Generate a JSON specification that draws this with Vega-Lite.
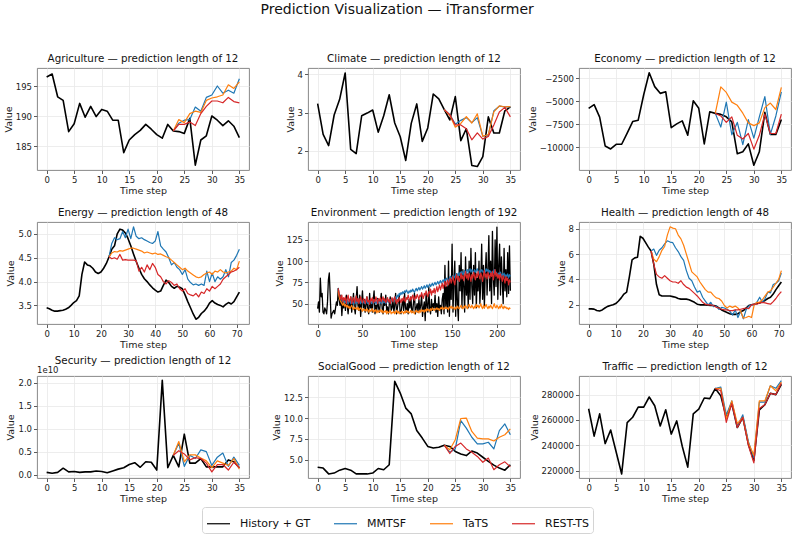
{
  "$schema": "https://vega.github.io/schema/vega-lite/v6.json",
  "autosize": {"type": "none"},
  "padding": {"left": 37, "top": 68, "right": 762, "bottom": 467},
  "title": {"text": "Prediction Visualization — iTransformer", "fontSize": 14, "anchor": "middle", "offset": 36, "frame": "bounds"},
  "columns": 3,
  "spacing": {"row": 52, "column": 59},
  "bounds": "flush",
  "datasets": {
    "agr_gt": [{"t":0,"v":196.5},{"t":1,"v":197.0},{"t":2,"v":193.2},{"t":3,"v":192.6},{"t":4,"v":187.4},{"t":5,"v":188.7},{"t":6,"v":192.1},{"t":7,"v":189.8},{"t":8,"v":191.6},{"t":9,"v":189.9},{"t":10,"v":191.1},{"t":11,"v":190.8},{"t":12,"v":189.3},{"t":13,"v":189.3},{"t":14,"v":183.9},{"t":15,"v":186.0},{"t":16,"v":186.9},{"t":17,"v":187.6},{"t":18,"v":188.6},{"t":19,"v":187.8},{"t":20,"v":186.9},{"t":21,"v":186.3},{"t":22,"v":188.6},{"t":23,"v":187.5},{"t":24,"v":187.4},{"t":25,"v":187.1},{"t":26,"v":189.6},{"t":27,"v":181.8},{"t":28,"v":186.0},{"t":29,"v":186.7},{"t":30,"v":190.0},{"t":31,"v":189.3},{"t":32,"v":188.4},{"t":33,"v":189.2},{"t":34,"v":188.3},{"t":35,"v":186.4}],
    "agr_mm": [{"t":23,"v":187.5},{"t":24,"v":188.8},{"t":25,"v":189.3},{"t":26,"v":189.4},{"t":27,"v":191.5},{"t":28,"v":190.8},{"t":29,"v":193.1},{"t":30,"v":193.5},{"t":31,"v":195.0},{"t":32,"v":193.8},{"t":33,"v":194.3},{"t":34,"v":193.8},{"t":35,"v":196.2}],
    "agr_ta": [{"t":23,"v":187.5},{"t":24,"v":189.4},{"t":25,"v":188.9},{"t":26,"v":190.4},{"t":27,"v":190.8},{"t":28,"v":190.6},{"t":29,"v":192.6},{"t":30,"v":193.0},{"t":31,"v":193.2},{"t":32,"v":193.5},{"t":33,"v":195.2},{"t":34,"v":194.6},{"t":35,"v":195.7}],
    "agr_re": [{"t":23,"v":187.5},{"t":24,"v":188.6},{"t":25,"v":188.6},{"t":26,"v":189.0},{"t":27,"v":188.4},{"t":28,"v":190.4},{"t":29,"v":191.6},{"t":30,"v":192.5},{"t":31,"v":192.5},{"t":32,"v":192.2},{"t":33,"v":193.1},{"t":34,"v":192.4},{"t":35,"v":192.2}],
    "cli_gt": [{"t":0,"v":3.24},{"t":1,"v":2.43},{"t":2,"v":2.14},{"t":3,"v":2.94},{"t":4,"v":3.35},{"t":5,"v":4.04},{"t":6,"v":2.04},{"t":7,"v":1.93},{"t":8,"v":2.92},{"t":9,"v":2.99},{"t":10,"v":3.07},{"t":11,"v":2.49},{"t":12,"v":2.92},{"t":13,"v":3.47},{"t":14,"v":2.73},{"t":15,"v":2.37},{"t":16,"v":1.75},{"t":17,"v":2.72},{"t":18,"v":3.23},{"t":19,"v":2.25},{"t":20,"v":2.60},{"t":21,"v":3.49},{"t":22,"v":3.36},{"t":23,"v":3.08},{"t":24,"v":2.81},{"t":25,"v":3.42},{"t":26,"v":2.27},{"t":27,"v":2.58},{"t":28,"v":1.62},{"t":29,"v":1.59},{"t":30,"v":1.85},{"t":31,"v":2.89},{"t":32,"v":2.47},{"t":33,"v":2.47},{"t":34,"v":3.05},{"t":35,"v":3.15}],
    "cli_mm": [{"t":23,"v":3.08},{"t":24,"v":2.95},{"t":25,"v":2.70},{"t":26,"v":2.80},{"t":27,"v":2.87},{"t":28,"v":2.74},{"t":29,"v":2.87},{"t":30,"v":2.38},{"t":31,"v":2.42},{"t":32,"v":3.05},{"t":33,"v":3.17},{"t":34,"v":3.15},{"t":35,"v":3.15}],
    "cli_ta": [{"t":23,"v":3.08},{"t":24,"v":2.93},{"t":25,"v":2.62},{"t":26,"v":2.72},{"t":27,"v":2.90},{"t":28,"v":2.73},{"t":29,"v":2.97},{"t":30,"v":2.38},{"t":31,"v":2.43},{"t":32,"v":3.02},{"t":33,"v":3.18},{"t":34,"v":3.15},{"t":35,"v":3.16}],
    "cli_re": [{"t":23,"v":3.08},{"t":24,"v":2.95},{"t":25,"v":2.68},{"t":26,"v":2.68},{"t":27,"v":2.58},{"t":28,"v":2.29},{"t":29,"v":2.47},{"t":30,"v":2.31},{"t":31,"v":2.38},{"t":32,"v":2.68},{"t":33,"v":3.02},{"t":34,"v":3.14},{"t":35,"v":2.89}],
    "eco_gt": [{"t":0,"v":-5770},{"t":1,"v":-5370},{"t":2,"v":-6730},{"t":3,"v":-9850},{"t":4,"v":-10180},{"t":5,"v":-9670},{"t":6,"v":-9670},{"t":7,"v":-8460},{"t":8,"v":-7210},{"t":9,"v":-7060},{"t":10,"v":-4300},{"t":11,"v":-1910},{"t":12,"v":-3420},{"t":13,"v":-4150},{"t":14,"v":-3970},{"t":15,"v":-7870},{"t":16,"v":-7460},{"t":17,"v":-7130},{"t":18,"v":-8680},{"t":19,"v":-4960},{"t":20,"v":-5770},{"t":21,"v":-9630},{"t":22,"v":-6140},{"t":23,"v":-6320},{"t":24,"v":-6430},{"t":25,"v":-6690},{"t":26,"v":-7240},{"t":27,"v":-10700},{"t":28,"v":-10480},{"t":29,"v":-9630},{"t":30,"v":-11950},{"t":31,"v":-10480},{"t":32,"v":-6210},{"t":33,"v":-8600},{"t":34,"v":-8600},{"t":35,"v":-6990}],
    "eco_mm": [{"t":23,"v":-6320},{"t":24,"v":-7800},{"t":25,"v":-5100},{"t":26,"v":-8640},{"t":27,"v":-7300},{"t":28,"v":-9700},{"t":29,"v":-7000},{"t":30,"v":-9000},{"t":31,"v":-6700},{"t":32,"v":-4500},{"t":33,"v":-8600},{"t":34,"v":-6600},{"t":35,"v":-4000}],
    "eco_ta": [{"t":23,"v":-6320},{"t":24,"v":-3450},{"t":25,"v":-4050},{"t":26,"v":-5100},{"t":27,"v":-5450},{"t":28,"v":-6300},{"t":29,"v":-7350},{"t":30,"v":-7650},{"t":31,"v":-7350},{"t":32,"v":-5700},{"t":33,"v":-5200},{"t":34,"v":-5900},{"t":35,"v":-3500}],
    "eco_re": [{"t":23,"v":-6320},{"t":24,"v":-6600},{"t":25,"v":-7300},{"t":26,"v":-6700},{"t":27,"v":-8700},{"t":28,"v":-9100},{"t":29,"v":-8500},{"t":30,"v":-10200},{"t":31,"v":-8700},{"t":32,"v":-6400},{"t":33,"v":-8500},{"t":34,"v":-8500},{"t":35,"v":-6400}],
    "ene_gt": [{"t":0,"v":3.45},{"t":1,"v":3.43},{"t":2,"v":3.40},{"t":3,"v":3.38},{"t":4,"v":3.38},{"t":5,"v":3.39},{"t":6,"v":3.40},{"t":7,"v":3.42},{"t":8,"v":3.45},{"t":9,"v":3.50},{"t":10,"v":3.56},{"t":11,"v":3.60},{"t":12,"v":3.70},{"t":13,"v":4.15},{"t":14,"v":4.41},{"t":15,"v":4.35},{"t":16,"v":4.33},{"t":17,"v":4.28},{"t":18,"v":4.20},{"t":19,"v":4.17},{"t":20,"v":4.20},{"t":21,"v":4.28},{"t":22,"v":4.38},{"t":23,"v":4.52},{"t":24,"v":4.68},{"t":25,"v":4.75},{"t":26,"v":5.00},{"t":27,"v":5.10},{"t":28,"v":5.08},{"t":29,"v":5.02},{"t":30,"v":4.90},{"t":31,"v":4.75},{"t":32,"v":4.58},{"t":33,"v":4.42},{"t":34,"v":4.28},{"t":35,"v":4.15},{"t":36,"v":4.06},{"t":37,"v":4.00},{"t":38,"v":3.93},{"t":39,"v":3.87},{"t":40,"v":3.82},{"t":41,"v":3.78},{"t":42,"v":3.80},{"t":43,"v":3.92},{"t":44,"v":4.03},{"t":45,"v":3.98},{"t":46,"v":3.90},{"t":47,"v":3.86},{"t":48,"v":3.90},{"t":49,"v":3.88},{"t":50,"v":3.85},{"t":51,"v":3.72},{"t":52,"v":3.58},{"t":53,"v":3.45},{"t":54,"v":3.32},{"t":55,"v":3.21},{"t":56,"v":3.25},{"t":57,"v":3.33},{"t":58,"v":3.38},{"t":59,"v":3.45},{"t":60,"v":3.55},{"t":61,"v":3.60},{"t":62,"v":3.55},{"t":63,"v":3.52},{"t":64,"v":3.50},{"t":65,"v":3.47},{"t":66,"v":3.52},{"t":67,"v":3.56},{"t":68,"v":3.53},{"t":69,"v":3.58},{"t":70,"v":3.68},{"t":71,"v":3.78}],
    "ene_mm": [{"t":23,"v":4.52},{"t":24,"v":4.80},{"t":25,"v":4.92},{"t":26,"v":4.88},{"t":27,"v":4.90},{"t":28,"v":5.05},{"t":29,"v":4.92},{"t":30,"v":5.10},{"t":31,"v":4.90},{"t":32,"v":5.15},{"t":33,"v":4.95},{"t":34,"v":4.90},{"t":35,"v":4.92},{"t":36,"v":4.88},{"t":37,"v":4.85},{"t":38,"v":4.82},{"t":39,"v":4.80},{"t":40,"v":4.85},{"t":41,"v":5.05},{"t":42,"v":4.75},{"t":43,"v":4.68},{"t":44,"v":4.62},{"t":45,"v":4.50},{"t":46,"v":4.35},{"t":47,"v":4.40},{"t":48,"v":4.30},{"t":49,"v":4.25},{"t":50,"v":4.15},{"t":51,"v":4.25},{"t":52,"v":4.05},{"t":53,"v":3.98},{"t":54,"v":3.93},{"t":55,"v":3.95},{"t":56,"v":3.92},{"t":57,"v":3.95},{"t":58,"v":3.92},{"t":59,"v":4.22},{"t":60,"v":4.00},{"t":61,"v":4.18},{"t":62,"v":4.00},{"t":63,"v":4.10},{"t":64,"v":4.05},{"t":65,"v":4.10},{"t":66,"v":4.25},{"t":67,"v":4.10},{"t":68,"v":4.40},{"t":69,"v":4.45},{"t":70,"v":4.55},{"t":71,"v":4.68}],
    "ene_ta": [{"t":23,"v":4.52},{"t":24,"v":4.60},{"t":25,"v":4.63},{"t":26,"v":4.62},{"t":27,"v":4.65},{"t":28,"v":4.64},{"t":29,"v":4.66},{"t":30,"v":4.68},{"t":31,"v":4.70},{"t":32,"v":4.70},{"t":33,"v":4.68},{"t":34,"v":4.66},{"t":35,"v":4.64},{"t":36,"v":4.60},{"t":37,"v":4.62},{"t":38,"v":4.60},{"t":39,"v":4.58},{"t":40,"v":4.60},{"t":41,"v":4.57},{"t":42,"v":4.58},{"t":43,"v":4.55},{"t":44,"v":4.52},{"t":45,"v":4.50},{"t":46,"v":4.45},{"t":47,"v":4.40},{"t":48,"v":4.35},{"t":49,"v":4.30},{"t":50,"v":4.25},{"t":51,"v":4.28},{"t":52,"v":4.22},{"t":53,"v":4.18},{"t":54,"v":4.14},{"t":55,"v":4.10},{"t":56,"v":4.08},{"t":57,"v":4.10},{"t":58,"v":4.15},{"t":59,"v":4.18},{"t":60,"v":4.20},{"t":61,"v":4.15},{"t":62,"v":4.22},{"t":63,"v":4.20},{"t":64,"v":4.25},{"t":65,"v":4.20},{"t":66,"v":4.18},{"t":67,"v":4.20},{"t":68,"v":4.22},{"t":69,"v":4.28},{"t":70,"v":4.25},{"t":71,"v":4.43}],
    "ene_re": [{"t":23,"v":4.52},{"t":24,"v":4.48},{"t":25,"v":4.50},{"t":26,"v":4.47},{"t":27,"v":4.57},{"t":28,"v":4.45},{"t":29,"v":4.46},{"t":30,"v":4.45},{"t":31,"v":4.45},{"t":32,"v":4.45},{"t":33,"v":4.44},{"t":34,"v":4.22},{"t":35,"v":4.30},{"t":36,"v":4.20},{"t":37,"v":4.35},{"t":38,"v":4.25},{"t":39,"v":4.38},{"t":40,"v":4.30},{"t":41,"v":4.15},{"t":42,"v":4.10},{"t":43,"v":4.00},{"t":44,"v":3.95},{"t":45,"v":4.02},{"t":46,"v":3.98},{"t":47,"v":3.92},{"t":48,"v":3.95},{"t":49,"v":3.85},{"t":50,"v":3.80},{"t":51,"v":3.85},{"t":52,"v":3.75},{"t":53,"v":3.72},{"t":54,"v":3.70},{"t":55,"v":3.75},{"t":56,"v":3.68},{"t":57,"v":3.78},{"t":58,"v":3.75},{"t":59,"v":3.85},{"t":60,"v":3.80},{"t":61,"v":3.90},{"t":62,"v":3.85},{"t":63,"v":3.90},{"t":64,"v":3.95},{"t":65,"v":4.05},{"t":66,"v":4.10},{"t":67,"v":4.15},{"t":68,"v":4.20},{"t":69,"v":4.22},{"t":70,"v":4.25},{"t":71,"v":4.30}],
    "env_gt": [{"t":0,"v":44},{"t":1,"v":52},{"t":2,"v":40},{"t":3,"v":80},{"t":4,"v":58},{"t":5,"v":62},{"t":6,"v":40},{"t":7,"v":38},{"t":8,"v":45},{"t":9,"v":42},{"t":10,"v":38},{"t":11,"v":52},{"t":12,"v":78},{"t":13,"v":86},{"t":14,"v":60},{"t":15,"v":33},{"t":16,"v":38},{"t":17,"v":40},{"t":18,"v":42},{"t":19,"v":38},{"t":20,"v":45},{"t":21,"v":52},{"t":22,"v":48},{"t":23,"v":68},{"t":24,"v":55},{"t":25,"v":48},{"t":26,"v":60},{"t":27,"v":36},{"t":28,"v":52},{"t":29,"v":45},{"t":30,"v":55},{"t":31,"v":42},{"t":32,"v":60},{"t":33,"v":48},{"t":34,"v":38},{"t":35,"v":52},{"t":36,"v":45},{"t":37,"v":58},{"t":38,"v":40},{"t":39,"v":50},{"t":40,"v":62},{"t":41,"v":45},{"t":42,"v":38},{"t":43,"v":55},{"t":44,"v":70},{"t":45,"v":48},{"t":46,"v":42},{"t":47,"v":60},{"t":48,"v":35},{"t":49,"v":50},{"t":50,"v":65},{"t":51,"v":45},{"t":52,"v":55},{"t":53,"v":40},{"t":54,"v":48},{"t":55,"v":58},{"t":56,"v":42},{"t":57,"v":38},{"t":58,"v":62},{"t":59,"v":45},{"t":60,"v":50},{"t":61,"v":40},{"t":62,"v":55},{"t":63,"v":65},{"t":64,"v":38},{"t":65,"v":48},{"t":66,"v":42},{"t":67,"v":56},{"t":68,"v":45},{"t":69,"v":40},{"t":70,"v":52},{"t":71,"v":62},{"t":72,"v":44},{"t":73,"v":38},{"t":74,"v":55},{"t":75,"v":48},{"t":76,"v":60},{"t":77,"v":42},{"t":78,"v":46},{"t":79,"v":38},{"t":80,"v":50},{"t":81,"v":58},{"t":82,"v":42},{"t":83,"v":45},{"t":84,"v":55},{"t":85,"v":40},{"t":86,"v":48},{"t":87,"v":62},{"t":88,"v":38},{"t":89,"v":45},{"t":90,"v":52},{"t":91,"v":60},{"t":92,"v":40},{"t":93,"v":38},{"t":94,"v":48},{"t":95,"v":55},{"t":96,"v":42},{"t":97,"v":62},{"t":98,"v":45},{"t":99,"v":40},{"t":100,"v":50},{"t":101,"v":38},{"t":102,"v":55},{"t":103,"v":45},{"t":104,"v":58},{"t":105,"v":42},{"t":106,"v":40},{"t":107,"v":52},{"t":108,"v":62},{"t":109,"v":38},{"t":110,"v":45},{"t":111,"v":50},{"t":112,"v":40},{"t":113,"v":55},{"t":114,"v":42},{"t":115,"v":48},{"t":116,"v":60},{"t":117,"v":35},{"t":118,"v":45},{"t":119,"v":52},{"t":120,"v":30},{"t":121,"v":62},{"t":122,"v":48},{"t":123,"v":40},{"t":124,"v":70},{"t":125,"v":45},{"t":126,"v":38},{"t":127,"v":55},{"t":128,"v":42},{"t":129,"v":50},{"t":130,"v":45},{"t":131,"v":60},{"t":132,"v":40},{"t":133,"v":50},{"t":134,"v":35},{"t":135,"v":58},{"t":136,"v":42},{"t":137,"v":48},{"t":138,"v":38},{"t":139,"v":55},{"t":140,"v":62},{"t":141,"v":38},{"t":142,"v":95},{"t":143,"v":45},{"t":144,"v":70},{"t":145,"v":40},{"t":146,"v":100},{"t":147,"v":35},{"t":148,"v":80},{"t":149,"v":55},{"t":150,"v":120},{"t":151,"v":40},{"t":152,"v":75},{"t":153,"v":100},{"t":154,"v":35},{"t":155,"v":85},{"t":156,"v":50},{"t":157,"v":30},{"t":158,"v":95},{"t":159,"v":65},{"t":160,"v":110},{"t":161,"v":45},{"t":162,"v":90},{"t":163,"v":70},{"t":164,"v":40},{"t":165,"v":105},{"t":166,"v":60},{"t":167,"v":85},{"t":168,"v":45},{"t":169,"v":100},{"t":170,"v":55},{"t":171,"v":115},{"t":172,"v":70},{"t":173,"v":50},{"t":174,"v":95},{"t":175,"v":60},{"t":176,"v":110},{"t":177,"v":45},{"t":178,"v":80},{"t":179,"v":65},{"t":180,"v":100},{"t":181,"v":50},{"t":182,"v":75},{"t":183,"v":120},{"t":184,"v":55},{"t":185,"v":95},{"t":186,"v":45},{"t":187,"v":85},{"t":188,"v":110},{"t":189,"v":60},{"t":190,"v":90},{"t":191,"v":130},{"t":192,"v":65},{"t":193,"v":100},{"t":194,"v":50},{"t":195,"v":135},{"t":196,"v":80},{"t":197,"v":60},{"t":198,"v":125},{"t":199,"v":70},{"t":200,"v":140},{"t":201,"v":55},{"t":202,"v":95},{"t":203,"v":120},{"t":204,"v":60},{"t":205,"v":105},{"t":206,"v":75},{"t":207,"v":50},{"t":208,"v":115},{"t":209,"v":65},{"t":210,"v":90},{"t":211,"v":58},{"t":212,"v":110},{"t":213,"v":62},{"t":214,"v":118},{"t":215,"v":65}],
    "env_mm": [{"t":23,"v":68},{"t":24,"v":60},{"t":25,"v":56},{"t":26,"v":58},{"t":27,"v":54},{"t":28,"v":52},{"t":29,"v":55},{"t":30,"v":50},{"t":31,"v":53},{"t":32,"v":51},{"t":33,"v":54},{"t":34,"v":50},{"t":35,"v":52},{"t":36,"v":55},{"t":37,"v":50},{"t":38,"v":53},{"t":39,"v":51},{"t":40,"v":49},{"t":41,"v":54},{"t":42,"v":52},{"t":43,"v":50},{"t":44,"v":53},{"t":45,"v":51},{"t":46,"v":55},{"t":47,"v":52},{"t":48,"v":50},{"t":49,"v":54},{"t":50,"v":51},{"t":51,"v":53},{"t":52,"v":50},{"t":53,"v":52},{"t":54,"v":55},{"t":55,"v":51},{"t":56,"v":50},{"t":57,"v":53},{"t":58,"v":52},{"t":59,"v":54},{"t":60,"v":50},{"t":61,"v":52},{"t":62,"v":55},{"t":63,"v":51},{"t":64,"v":53},{"t":65,"v":50},{"t":66,"v":52},{"t":67,"v":55},{"t":68,"v":51},{"t":69,"v":53},{"t":70,"v":52},{"t":71,"v":50},{"t":72,"v":54},{"t":73,"v":52},{"t":74,"v":51},{"t":75,"v":53},{"t":76,"v":50},{"t":77,"v":52},{"t":78,"v":54},{"t":79,"v":51},{"t":80,"v":53},{"t":81,"v":55},{"t":82,"v":52},{"t":83,"v":54},{"t":84,"v":56},{"t":85,"v":53},{"t":86,"v":55},{"t":87,"v":58},{"t":88,"v":56},{"t":89,"v":60},{"t":90,"v":58},{"t":91,"v":62},{"t":92,"v":60},{"t":93,"v":63},{"t":94,"v":61},{"t":95,"v":64},{"t":96,"v":62},{"t":97,"v":65},{"t":98,"v":63},{"t":99,"v":66},{"t":100,"v":64},{"t":101,"v":62},{"t":102,"v":65},{"t":103,"v":63},{"t":104,"v":66},{"t":105,"v":64},{"t":106,"v":67},{"t":107,"v":65},{"t":108,"v":63},{"t":109,"v":66},{"t":110,"v":68},{"t":111,"v":65},{"t":112,"v":67},{"t":113,"v":69},{"t":114,"v":66},{"t":115,"v":68},{"t":116,"v":70},{"t":117,"v":67},{"t":118,"v":69},{"t":119,"v":71},{"t":120,"v":68},{"t":121,"v":70},{"t":122,"v":72},{"t":123,"v":69},{"t":124,"v":71},{"t":125,"v":73},{"t":126,"v":70},{"t":127,"v":72},{"t":128,"v":74},{"t":129,"v":71},{"t":130,"v":73},{"t":131,"v":75},{"t":132,"v":72},{"t":133,"v":74},{"t":134,"v":76},{"t":135,"v":73},{"t":136,"v":75},{"t":137,"v":77},{"t":138,"v":74},{"t":139,"v":76},{"t":140,"v":78},{"t":141,"v":75},{"t":142,"v":79},{"t":143,"v":77},{"t":144,"v":80},{"t":145,"v":78},{"t":146,"v":76},{"t":147,"v":80},{"t":148,"v":82},{"t":149,"v":79},{"t":150,"v":81},{"t":151,"v":83},{"t":152,"v":80},{"t":153,"v":82},{"t":154,"v":85},{"t":155,"v":81},{"t":156,"v":84},{"t":157,"v":86},{"t":158,"v":83},{"t":159,"v":87},{"t":160,"v":85},{"t":161,"v":88},{"t":162,"v":84},{"t":163,"v":86},{"t":164,"v":89},{"t":165,"v":85},{"t":166,"v":88},{"t":167,"v":90},{"t":168,"v":86},{"t":169,"v":89},{"t":170,"v":91},{"t":171,"v":87},{"t":172,"v":90},{"t":173,"v":88},{"t":174,"v":86},{"t":175,"v":90},{"t":176,"v":87},{"t":177,"v":89},{"t":178,"v":91},{"t":179,"v":88},{"t":180,"v":85},{"t":181,"v":89},{"t":182,"v":87},{"t":183,"v":90},{"t":184,"v":88},{"t":185,"v":86},{"t":186,"v":89},{"t":187,"v":87},{"t":188,"v":91},{"t":189,"v":88},{"t":190,"v":90},{"t":191,"v":86},{"t":192,"v":89},{"t":193,"v":87},{"t":194,"v":85},{"t":195,"v":88},{"t":196,"v":86},{"t":197,"v":90},{"t":198,"v":84},{"t":199,"v":87},{"t":200,"v":85},{"t":201,"v":83},{"t":202,"v":86},{"t":203,"v":84},{"t":204,"v":87},{"t":205,"v":82},{"t":206,"v":85},{"t":207,"v":83},{"t":208,"v":86},{"t":209,"v":81},{"t":210,"v":84},{"t":211,"v":82},{"t":212,"v":85},{"t":213,"v":80},{"t":214,"v":84},{"t":215,"v":82}],
    "env_ta": [{"t":23,"v":65},{"t":24,"v":58},{"t":25,"v":54},{"t":26,"v":52},{"t":27,"v":50},{"t":28,"v":48},{"t":29,"v":51},{"t":30,"v":47},{"t":31,"v":49},{"t":32,"v":46},{"t":33,"v":48},{"t":34,"v":45},{"t":35,"v":47},{"t":36,"v":44},{"t":37,"v":46},{"t":38,"v":48},{"t":39,"v":45},{"t":40,"v":43},{"t":41,"v":46},{"t":42,"v":44},{"t":43,"v":45},{"t":44,"v":43},{"t":45,"v":46},{"t":46,"v":42},{"t":47,"v":44},{"t":48,"v":45},{"t":49,"v":43},{"t":50,"v":41},{"t":51,"v":44},{"t":52,"v":42},{"t":53,"v":43},{"t":54,"v":41},{"t":55,"v":44},{"t":56,"v":42},{"t":57,"v":40},{"t":58,"v":43},{"t":59,"v":41},{"t":60,"v":42},{"t":61,"v":44},{"t":62,"v":40},{"t":63,"v":42},{"t":64,"v":41},{"t":65,"v":43},{"t":66,"v":39},{"t":67,"v":42},{"t":68,"v":40},{"t":69,"v":41},{"t":70,"v":43},{"t":71,"v":40},{"t":72,"v":42},{"t":73,"v":39},{"t":74,"v":41},{"t":75,"v":40},{"t":76,"v":42},{"t":77,"v":38},{"t":78,"v":41},{"t":79,"v":39},{"t":80,"v":40},{"t":81,"v":42},{"t":82,"v":38},{"t":83,"v":40},{"t":84,"v":39},{"t":85,"v":41},{"t":86,"v":38},{"t":87,"v":40},{"t":88,"v":42},{"t":89,"v":39},{"t":90,"v":41},{"t":91,"v":38},{"t":92,"v":40},{"t":93,"v":39},{"t":94,"v":41},{"t":95,"v":40},{"t":96,"v":38},{"t":97,"v":41},{"t":98,"v":39},{"t":99,"v":42},{"t":100,"v":40},{"t":101,"v":41},{"t":102,"v":39},{"t":103,"v":40},{"t":104,"v":42},{"t":105,"v":39},{"t":106,"v":41},{"t":107,"v":40},{"t":108,"v":38},{"t":109,"v":41},{"t":110,"v":42},{"t":111,"v":40},{"t":112,"v":41},{"t":113,"v":39},{"t":114,"v":42},{"t":115,"v":40},{"t":116,"v":43},{"t":117,"v":41},{"t":118,"v":42},{"t":119,"v":40},{"t":120,"v":43},{"t":121,"v":41},{"t":122,"v":44},{"t":123,"v":42},{"t":124,"v":43},{"t":125,"v":41},{"t":126,"v":44},{"t":127,"v":42},{"t":128,"v":45},{"t":129,"v":43},{"t":130,"v":42},{"t":131,"v":44},{"t":132,"v":43},{"t":133,"v":45},{"t":134,"v":43},{"t":135,"v":44},{"t":136,"v":42},{"t":137,"v":45},{"t":138,"v":44},{"t":139,"v":46},{"t":140,"v":43},{"t":141,"v":45},{"t":142,"v":44},{"t":143,"v":46},{"t":144,"v":44},{"t":145,"v":45},{"t":146,"v":43},{"t":147,"v":46},{"t":148,"v":45},{"t":149,"v":47},{"t":150,"v":44},{"t":151,"v":46},{"t":152,"v":45},{"t":153,"v":43},{"t":154,"v":46},{"t":155,"v":44},{"t":156,"v":47},{"t":157,"v":45},{"t":158,"v":44},{"t":159,"v":46},{"t":160,"v":48},{"t":161,"v":45},{"t":162,"v":44},{"t":163,"v":47},{"t":164,"v":45},{"t":165,"v":48},{"t":166,"v":46},{"t":167,"v":44},{"t":168,"v":47},{"t":169,"v":49},{"t":170,"v":46},{"t":171,"v":45},{"t":172,"v":48},{"t":173,"v":46},{"t":174,"v":44},{"t":175,"v":47},{"t":176,"v":45},{"t":177,"v":49},{"t":178,"v":46},{"t":179,"v":48},{"t":180,"v":45},{"t":181,"v":47},{"t":182,"v":50},{"t":183,"v":46},{"t":184,"v":44},{"t":185,"v":48},{"t":186,"v":45},{"t":187,"v":47},{"t":188,"v":49},{"t":189,"v":46},{"t":190,"v":44},{"t":191,"v":47},{"t":192,"v":45},{"t":193,"v":48},{"t":194,"v":46},{"t":195,"v":44},{"t":196,"v":47},{"t":197,"v":50},{"t":198,"v":46},{"t":199,"v":45},{"t":200,"v":48},{"t":201,"v":46},{"t":202,"v":44},{"t":203,"v":47},{"t":204,"v":45},{"t":205,"v":49},{"t":206,"v":46},{"t":207,"v":44},{"t":208,"v":47},{"t":209,"v":45},{"t":210,"v":46},{"t":211,"v":44},{"t":212,"v":45},{"t":213,"v":43},{"t":214,"v":45},{"t":215,"v":44}],
    "env_re": [{"t":23,"v":68},{"t":24,"v":62},{"t":25,"v":58},{"t":26,"v":55},{"t":27,"v":60},{"t":28,"v":52},{"t":29,"v":57},{"t":30,"v":54},{"t":31,"v":58},{"t":32,"v":50},{"t":33,"v":56},{"t":34,"v":60},{"t":35,"v":52},{"t":36,"v":55},{"t":37,"v":58},{"t":38,"v":50},{"t":39,"v":54},{"t":40,"v":57},{"t":41,"v":51},{"t":42,"v":55},{"t":43,"v":59},{"t":44,"v":52},{"t":45,"v":56},{"t":46,"v":50},{"t":47,"v":55},{"t":48,"v":58},{"t":49,"v":53},{"t":50,"v":51},{"t":51,"v":56},{"t":52,"v":54},{"t":53,"v":50},{"t":54,"v":55},{"t":55,"v":58},{"t":56,"v":52},{"t":57,"v":54},{"t":58,"v":49},{"t":59,"v":56},{"t":60,"v":53},{"t":61,"v":57},{"t":62,"v":51},{"t":63,"v":55},{"t":64,"v":52},{"t":65,"v":58},{"t":66,"v":54},{"t":67,"v":50},{"t":68,"v":56},{"t":69,"v":53},{"t":70,"v":57},{"t":71,"v":52},{"t":72,"v":55},{"t":73,"v":58},{"t":74,"v":53},{"t":75,"v":56},{"t":76,"v":51},{"t":77,"v":54},{"t":78,"v":57},{"t":79,"v":52},{"t":80,"v":55},{"t":81,"v":50},{"t":82,"v":54},{"t":83,"v":57},{"t":84,"v":52},{"t":85,"v":55},{"t":86,"v":58},{"t":87,"v":53},{"t":88,"v":50},{"t":89,"v":55},{"t":90,"v":52},{"t":91,"v":57},{"t":92,"v":54},{"t":93,"v":51},{"t":94,"v":56},{"t":95,"v":53},{"t":96,"v":58},{"t":97,"v":54},{"t":98,"v":52},{"t":99,"v":57},{"t":100,"v":55},{"t":101,"v":60},{"t":102,"v":56},{"t":103,"v":53},{"t":104,"v":58},{"t":105,"v":55},{"t":106,"v":60},{"t":107,"v":57},{"t":108,"v":54},{"t":109,"v":59},{"t":110,"v":56},{"t":111,"v":61},{"t":112,"v":58},{"t":113,"v":55},{"t":114,"v":60},{"t":115,"v":58},{"t":116,"v":63},{"t":117,"v":59},{"t":118,"v":56},{"t":119,"v":62},{"t":120,"v":60},{"t":121,"v":65},{"t":122,"v":61},{"t":123,"v":58},{"t":124,"v":64},{"t":125,"v":62},{"t":126,"v":67},{"t":127,"v":60},{"t":128,"v":65},{"t":129,"v":63},{"t":130,"v":68},{"t":131,"v":62},{"t":132,"v":66},{"t":133,"v":70},{"t":134,"v":64},{"t":135,"v":68},{"t":136,"v":72},{"t":137,"v":66},{"t":138,"v":70},{"t":139,"v":74},{"t":140,"v":68},{"t":141,"v":72},{"t":142,"v":76},{"t":143,"v":70},{"t":144,"v":74},{"t":145,"v":78},{"t":146,"v":72},{"t":147,"v":76},{"t":148,"v":80},{"t":149,"v":74},{"t":150,"v":78},{"t":151,"v":82},{"t":152,"v":76},{"t":153,"v":72},{"t":154,"v":80},{"t":155,"v":84},{"t":156,"v":78},{"t":157,"v":82},{"t":158,"v":76},{"t":159,"v":80},{"t":160,"v":86},{"t":161,"v":79},{"t":162,"v":83},{"t":163,"v":77},{"t":164,"v":82},{"t":165,"v":88},{"t":166,"v":80},{"t":167,"v":84},{"t":168,"v":78},{"t":169,"v":86},{"t":170,"v":82},{"t":171,"v":76},{"t":172,"v":84},{"t":173,"v":80},{"t":174,"v":87},{"t":175,"v":82},{"t":176,"v":78},{"t":177,"v":85},{"t":178,"v":81},{"t":179,"v":88},{"t":180,"v":83},{"t":181,"v":79},{"t":182,"v":86},{"t":183,"v":82},{"t":184,"v":76},{"t":185,"v":84},{"t":186,"v":89},{"t":187,"v":81},{"t":188,"v":85},{"t":189,"v":79},{"t":190,"v":87},{"t":191,"v":83},{"t":192,"v":80},{"t":193,"v":86},{"t":194,"v":82},{"t":195,"v":88},{"t":196,"v":78},{"t":197,"v":84},{"t":198,"v":90},{"t":199,"v":82},{"t":200,"v":86},{"t":201,"v":80},{"t":202,"v":84},{"t":203,"v":78},{"t":204,"v":85},{"t":205,"v":81},{"t":206,"v":76},{"t":207,"v":83},{"t":208,"v":79},{"t":209,"v":74},{"t":210,"v":82},{"t":211,"v":77},{"t":212,"v":80},{"t":213,"v":72},{"t":214,"v":78},{"t":215,"v":75}],
    "hea_gt": [{"t":0,"v":1.68},{"t":1,"v":1.68},{"t":2,"v":1.66},{"t":3,"v":1.55},{"t":4,"v":1.52},{"t":5,"v":1.60},{"t":6,"v":1.75},{"t":7,"v":1.88},{"t":8,"v":1.95},{"t":9,"v":2.00},{"t":10,"v":2.10},{"t":11,"v":2.30},{"t":12,"v":2.55},{"t":13,"v":2.85},{"t":14,"v":3.00},{"t":15,"v":4.20},{"t":16,"v":5.55},{"t":17,"v":5.70},{"t":18,"v":5.75},{"t":19,"v":7.40},{"t":20,"v":7.25},{"t":21,"v":6.90},{"t":22,"v":6.55},{"t":23,"v":6.25},{"t":24,"v":5.20},{"t":25,"v":3.60},{"t":26,"v":2.80},{"t":27,"v":2.70},{"t":28,"v":2.70},{"t":29,"v":2.70},{"t":30,"v":2.70},{"t":31,"v":2.65},{"t":32,"v":2.60},{"t":33,"v":2.50},{"t":34,"v":2.45},{"t":35,"v":2.45},{"t":36,"v":2.45},{"t":37,"v":2.40},{"t":38,"v":2.30},{"t":39,"v":2.20},{"t":40,"v":2.05},{"t":41,"v":2.00},{"t":42,"v":2.00},{"t":43,"v":2.00},{"t":44,"v":1.98},{"t":45,"v":1.95},{"t":46,"v":1.95},{"t":47,"v":1.90},{"t":48,"v":1.75},{"t":49,"v":1.60},{"t":50,"v":1.50},{"t":51,"v":1.40},{"t":52,"v":1.30},{"t":53,"v":1.25},{"t":54,"v":1.25},{"t":55,"v":1.30},{"t":56,"v":1.45},{"t":57,"v":1.55},{"t":58,"v":1.75},{"t":59,"v":1.95},{"t":60,"v":2.00},{"t":61,"v":2.05},{"t":62,"v":2.10},{"t":63,"v":2.15},{"t":64,"v":2.25},{"t":65,"v":2.35},{"t":66,"v":2.50},{"t":67,"v":2.60},{"t":68,"v":2.85},{"t":69,"v":3.20},{"t":70,"v":3.50},{"t":71,"v":3.80}],
    "hea_mm": [{"t":23,"v":6.25},{"t":24,"v":6.40},{"t":25,"v":5.90},{"t":26,"v":6.30},{"t":27,"v":6.50},{"t":28,"v":6.80},{"t":29,"v":7.05},{"t":30,"v":6.95},{"t":31,"v":6.90},{"t":32,"v":6.50},{"t":33,"v":6.20},{"t":34,"v":5.80},{"t":35,"v":5.50},{"t":36,"v":4.70},{"t":37,"v":4.10},{"t":38,"v":3.90},{"t":39,"v":3.40},{"t":40,"v":3.00},{"t":41,"v":3.10},{"t":42,"v":2.60},{"t":43,"v":2.30},{"t":44,"v":2.00},{"t":45,"v":2.20},{"t":46,"v":1.85},{"t":47,"v":1.90},{"t":48,"v":1.65},{"t":49,"v":1.80},{"t":50,"v":1.75},{"t":51,"v":1.65},{"t":52,"v":1.50},{"t":53,"v":1.20},{"t":54,"v":1.60},{"t":55,"v":1.00},{"t":56,"v":1.50},{"t":57,"v":0.90},{"t":58,"v":1.60},{"t":59,"v":1.90},{"t":60,"v":2.00},{"t":61,"v":2.00},{"t":62,"v":2.20},{"t":63,"v":2.60},{"t":64,"v":2.20},{"t":65,"v":2.50},{"t":66,"v":3.00},{"t":67,"v":2.95},{"t":68,"v":3.60},{"t":69,"v":3.70},{"t":70,"v":3.90},{"t":71,"v":4.50}],
    "hea_ta": [{"t":23,"v":6.25},{"t":24,"v":5.60},{"t":25,"v":5.40},{"t":26,"v":5.80},{"t":27,"v":6.30},{"t":28,"v":6.60},{"t":29,"v":7.50},{"t":30,"v":8.15},{"t":31,"v":8.05},{"t":32,"v":8.00},{"t":33,"v":7.50},{"t":34,"v":7.20},{"t":35,"v":6.70},{"t":36,"v":6.00},{"t":37,"v":5.30},{"t":38,"v":4.60},{"t":39,"v":4.40},{"t":40,"v":4.20},{"t":41,"v":3.80},{"t":42,"v":3.50},{"t":43,"v":3.20},{"t":44,"v":3.00},{"t":45,"v":3.00},{"t":46,"v":2.75},{"t":47,"v":2.55},{"t":48,"v":2.50},{"t":49,"v":2.30},{"t":50,"v":1.95},{"t":51,"v":1.75},{"t":52,"v":1.90},{"t":53,"v":1.80},{"t":54,"v":1.90},{"t":55,"v":1.75},{"t":56,"v":1.50},{"t":57,"v":0.95},{"t":58,"v":1.00},{"t":59,"v":1.10},{"t":60,"v":1.00},{"t":61,"v":2.00},{"t":62,"v":2.20},{"t":63,"v":2.20},{"t":64,"v":2.40},{"t":65,"v":2.70},{"t":66,"v":3.00},{"t":67,"v":3.10},{"t":68,"v":3.40},{"t":69,"v":3.70},{"t":70,"v":4.00},{"t":71,"v":4.70}],
    "hea_re": [{"t":23,"v":6.25},{"t":24,"v":5.20},{"t":25,"v":4.40},{"t":26,"v":4.20},{"t":27,"v":4.10},{"t":28,"v":4.30},{"t":29,"v":4.10},{"t":30,"v":3.90},{"t":31,"v":3.80},{"t":32,"v":3.80},{"t":33,"v":3.70},{"t":34,"v":3.90},{"t":35,"v":3.60},{"t":36,"v":3.40},{"t":37,"v":3.30},{"t":38,"v":3.10},{"t":39,"v":2.90},{"t":40,"v":2.70},{"t":41,"v":2.45},{"t":42,"v":2.20},{"t":43,"v":2.05},{"t":44,"v":2.00},{"t":45,"v":2.00},{"t":46,"v":1.95},{"t":47,"v":1.80},{"t":48,"v":1.75},{"t":49,"v":1.65},{"t":50,"v":1.60},{"t":51,"v":1.60},{"t":52,"v":1.55},{"t":53,"v":1.55},{"t":54,"v":1.60},{"t":55,"v":1.60},{"t":56,"v":1.65},{"t":57,"v":1.70},{"t":58,"v":1.75},{"t":59,"v":1.70},{"t":60,"v":2.00},{"t":61,"v":2.05},{"t":62,"v":2.05},{"t":63,"v":2.15},{"t":64,"v":2.20},{"t":65,"v":2.15},{"t":66,"v":2.10},{"t":67,"v":2.05},{"t":68,"v":2.25},{"t":69,"v":2.50},{"t":70,"v":2.80},{"t":71,"v":3.05}],
    "sec_gt": [{"t":0,"v":5e8},{"t":1,"v":3e8},{"t":2,"v":5e8},{"t":3,"v":1.4e9},{"t":4,"v":6e8},{"t":5,"v":7e8},{"t":6,"v":5e8},{"t":7,"v":6e8},{"t":8,"v":6e8},{"t":9,"v":8e8},{"t":10,"v":7e8},{"t":11,"v":4e8},{"t":12,"v":8e8},{"t":13,"v":1.2e9},{"t":14,"v":1.5e9},{"t":15,"v":2.2e9},{"t":16,"v":2.6e9},{"t":17,"v":1.6e9},{"t":18,"v":2.8e9},{"t":19,"v":2.7e9},{"t":20,"v":1.0e9},{"t":21,"v":2.05e10},{"t":22,"v":1.5e9},{"t":23,"v":4.2e9},{"t":24,"v":1.7e9},{"t":25,"v":8.8e9},{"t":26,"v":2.5e9},{"t":27,"v":2.5e9},{"t":28,"v":3.5e9},{"t":29,"v":1.7e9},{"t":30,"v":1.7e9},{"t":31,"v":1.7e9},{"t":32,"v":1.7e9},{"t":33,"v":3.2e9},{"t":34,"v":2.8e9},{"t":35,"v":1.5e9}],
    "sec_mm": [{"t":23,"v":4.2e9},{"t":24,"v":6.8e9},{"t":25,"v":1.8e9},{"t":26,"v":4.2e9},{"t":27,"v":3.5e9},{"t":28,"v":5.4e9},{"t":29,"v":5.0e9},{"t":30,"v":2.0e9},{"t":31,"v":3.8e9},{"t":32,"v":4.7e9},{"t":33,"v":1.8e9},{"t":34,"v":3.8e9},{"t":35,"v":2.0e9}],
    "sec_ta": [{"t":23,"v":4.2e9},{"t":24,"v":7.2e9},{"t":25,"v":2.8e9},{"t":26,"v":4.3e9},{"t":27,"v":4.3e9},{"t":28,"v":3.6e9},{"t":29,"v":3.0e9},{"t":30,"v":1.5e9},{"t":31,"v":3.0e9},{"t":32,"v":2.5e9},{"t":33,"v":2.0e9},{"t":34,"v":3.5e9},{"t":35,"v":1.2e9}],
    "sec_re": [{"t":23,"v":4.2e9},{"t":24,"v":5.2e9},{"t":25,"v":4.5e9},{"t":26,"v":3.2e9},{"t":27,"v":3.7e9},{"t":28,"v":3.5e9},{"t":29,"v":2.5e9},{"t":30,"v":6e8},{"t":31,"v":2.2e9},{"t":32,"v":2.2e9},{"t":33,"v":1.0e9},{"t":34,"v":2.7e9},{"t":35,"v":1.5e9}],
    "soc_gt": [{"t":0,"v":4.11},{"t":1,"v":4.0},{"t":2,"v":3.3},{"t":3,"v":3.4},{"t":4,"v":3.75},{"t":5,"v":3.95},{"t":6,"v":3.75},{"t":7,"v":3.3},{"t":8,"v":3.3},{"t":9,"v":3.3},{"t":10,"v":3.4},{"t":11,"v":3.95},{"t":12,"v":3.8},{"t":13,"v":4.4},{"t":14,"v":14.4},{"t":15,"v":13.0},{"t":16,"v":11.2},{"t":17,"v":10.5},{"t":18,"v":8.5},{"t":19,"v":7.6},{"t":20,"v":6.6},{"t":21,"v":6.4},{"t":22,"v":6.5},{"t":23,"v":6.75},{"t":24,"v":6.6},{"t":25,"v":6.0},{"t":26,"v":5.7},{"t":27,"v":5.5},{"t":28,"v":6.05},{"t":29,"v":5.8},{"t":30,"v":5.3},{"t":31,"v":4.8},{"t":32,"v":4.35},{"t":33,"v":4.0},{"t":34,"v":3.75},{"t":35,"v":4.4}],
    "soc_mm": [{"t":23,"v":6.75},{"t":24,"v":5.9},{"t":25,"v":6.3},{"t":26,"v":9.7},{"t":27,"v":8.8},{"t":28,"v":7.7},{"t":29,"v":6.9},{"t":30,"v":6.9},{"t":31,"v":7.1},{"t":32,"v":6.3},{"t":33,"v":8.5},{"t":34,"v":9.3},{"t":35,"v":8.0}],
    "soc_ta": [{"t":23,"v":6.75},{"t":24,"v":6.2},{"t":25,"v":7.4},{"t":26,"v":9.95},{"t":27,"v":10.0},{"t":28,"v":8.4},{"t":29,"v":7.6},{"t":30,"v":7.5},{"t":31,"v":7.5},{"t":32,"v":7.25},{"t":33,"v":7.7},{"t":34,"v":8.0},{"t":35,"v":8.7}],
    "soc_re": [{"t":23,"v":6.75},{"t":24,"v":5.75},{"t":25,"v":6.6},{"t":26,"v":7.0},{"t":27,"v":6.3},{"t":28,"v":5.9},{"t":29,"v":5.4},{"t":30,"v":4.7},{"t":31,"v":5.2},{"t":32,"v":3.8},{"t":33,"v":4.4},{"t":34,"v":4.75},{"t":35,"v":4.15}],
    "tra_gt": [{"t":0,"v":268800},{"t":1,"v":247200},{"t":2,"v":264800},{"t":3,"v":241300},{"t":4,"v":252000},{"t":5,"v":234700},{"t":6,"v":217300},{"t":7,"v":257900},{"t":8,"v":262100},{"t":9,"v":270100},{"t":10,"v":270100},{"t":11,"v":278100},{"t":12,"v":271200},{"t":13,"v":255200},{"t":14,"v":268000},{"t":15,"v":248800},{"t":16,"v":259200},{"t":17,"v":239200},{"t":18,"v":222700},{"t":19,"v":264800},{"t":20,"v":268500},{"t":21,"v":277300},{"t":22,"v":276800},{"t":23,"v":284800},{"t":24,"v":279000},{"t":25,"v":262000},{"t":26,"v":273000},{"t":27,"v":254000},{"t":28,"v":262000},{"t":29,"v":241000},{"t":30,"v":228000},{"t":31,"v":268000},{"t":32,"v":272000},{"t":33,"v":281000},{"t":34,"v":280000},{"t":35,"v":288000}],
    "tra_mm": [{"t":23,"v":284800},{"t":24,"v":286000},{"t":25,"v":264000},{"t":26,"v":275000},{"t":27,"v":255000},{"t":28,"v":264000},{"t":29,"v":243000},{"t":30,"v":230000},{"t":31,"v":274000},{"t":32,"v":274000},{"t":33,"v":287000},{"t":34,"v":285000},{"t":35,"v":291000}],
    "tra_ta": [{"t":23,"v":284800},{"t":24,"v":285000},{"t":25,"v":261000},{"t":26,"v":275000},{"t":27,"v":257000},{"t":28,"v":262000},{"t":29,"v":242000},{"t":30,"v":232000},{"t":31,"v":275000},{"t":32,"v":275000},{"t":33,"v":287000},{"t":34,"v":283000},{"t":35,"v":290000}],
    "tra_re": [{"t":23,"v":284800},{"t":24,"v":283000},{"t":25,"v":258000},{"t":26,"v":273000},{"t":27,"v":254000},{"t":28,"v":262000},{"t":29,"v":240000},{"t":30,"v":226000},{"t":31,"v":269000},{"t":32,"v":272000},{"t":33,"v":281000},{"t":34,"v":280000},{"t":35,"v":289000}],
    "sec_scale": [{"label": "1e10"}]
  },
  "concat": [
    {
      "title": "Agriculture — prediction length of 12",
      "width": 212, "height": 102,
      "encoding": {
        "x": {"field": "t", "type": "quantitative", "scale": {"domain": [-1.75, 36.75], "nice": false, "zero": false}, "axis": {"title": "Time step", "values": [0, 5, 10, 15, 20, 25, 30, 35]}},
        "y": {"field": "v", "type": "quantitative", "scale": {"domain": [181, 198], "nice": false, "zero": false}, "axis": {"title": "Value", "values": [185, 190, 195], "format": "d"}}
      },
      "layer": [
        {"data": {"values": [{}]}, "mark": "rule", "encoding": {"x": {"datum": 23.5}, "y": {"datum": 181}, "y2": {"datum": 198}}},
        {"data": {"name": "agr_gt"}, "mark": {"type": "line", "strokeWidth": 1.6}, "encoding": {"color": {"datum": "History + GT",
          "scale": {"domain": ["History + GT", "MMTSF", "TaTS", "REST-TS"], "range": ["#000000", "#1f77b4", "#ff7f0e", "#d62728"]},
          "legend": {"title": null, "orient": "none", "legendX": 165, "legendY": 439, "direction": "horizontal", "columns": 4, "symbolType": "stroke", "symbolSize": 529, "symbolStrokeWidth": 1.5, "labelFontSize": 11, "labelColor": "#111111", "labelOffset": 9, "columnPadding": 22, "padding": 4, "strokeColor": "#d4d4d4", "cornerRadius": 3, "fillColor": "#ffffff"}}}},
        {"data": {"name": "agr_mm"}, "mark": "line", "encoding": {"color": {"datum": "MMTSF"}}},
        {"data": {"name": "agr_ta"}, "mark": "line", "encoding": {"color": {"datum": "TaTS"}}},
        {"data": {"name": "agr_re"}, "mark": "line", "encoding": {"color": {"datum": "REST-TS"}}}
      ]
    },
    {
      "title": "Climate — prediction length of 12",
      "width": 212, "height": 102,
      "encoding": {
        "x": {"field": "t", "type": "quantitative", "scale": {"domain": [-1.75, 36.75], "nice": false, "zero": false}, "axis": {"title": "Time step", "values": [0, 5, 10, 15, 20, 25, 30, 35]}},
        "y": {"field": "v", "type": "quantitative", "scale": {"domain": [1.5, 4.17], "nice": false, "zero": false}, "axis": {"title": "Value", "values": [2, 3, 4], "format": "d"}}
      },
      "layer": [
        {"data": {"values": [{}]}, "mark": "rule", "encoding": {"x": {"datum": 23.5}, "y": {"datum": 1.5}, "y2": {"datum": 4.17}}},
        {"data": {"name": "cli_gt"}, "mark": {"type": "line", "strokeWidth": 1.6}, "encoding": {"color": {"datum": "History + GT"}}},
        {"data": {"name": "cli_mm"}, "mark": "line", "encoding": {"color": {"datum": "MMTSF"}}},
        {"data": {"name": "cli_ta"}, "mark": "line", "encoding": {"color": {"datum": "TaTS"}}},
        {"data": {"name": "cli_re"}, "mark": "line", "encoding": {"color": {"datum": "REST-TS"}}}
      ]
    },
    {
      "title": "Economy — prediction length of 12",
      "width": 212, "height": 102,
      "encoding": {
        "x": {"field": "t", "type": "quantitative", "scale": {"domain": [-1.75, 36.75], "nice": false, "zero": false}, "axis": {"title": "Time step", "values": [0, 5, 10, 15, 20, 25, 30, 35]}},
        "y": {"field": "v", "type": "quantitative", "scale": {"domain": [-12460, -1400], "nice": false, "zero": false}, "axis": {"title": "Value", "values": [-12500, -10000, -7500, -5000, -2500], "format": "d"}}
      },
      "layer": [
        {"data": {"values": [{}]}, "mark": "rule", "encoding": {"x": {"datum": 23.5}, "y": {"datum": -12460}, "y2": {"datum": -1400}}},
        {"data": {"name": "eco_gt"}, "mark": {"type": "line", "strokeWidth": 1.6}, "encoding": {"color": {"datum": "History + GT"}}},
        {"data": {"name": "eco_mm"}, "mark": "line", "encoding": {"color": {"datum": "MMTSF"}}},
        {"data": {"name": "eco_ta"}, "mark": "line", "encoding": {"color": {"datum": "TaTS"}}},
        {"data": {"name": "eco_re"}, "mark": "line", "encoding": {"color": {"datum": "REST-TS"}}}
      ]
    },
    {
      "title": "Energy — prediction length of 48",
      "width": 212, "height": 102,
      "encoding": {
        "x": {"field": "t", "type": "quantitative", "scale": {"domain": [-3.55, 74.55], "nice": false, "zero": false}, "axis": {"title": "Time step", "values": [0, 10, 20, 30, 40, 50, 60, 70]}},
        "y": {"field": "v", "type": "quantitative", "scale": {"domain": [3.11, 5.25], "nice": false, "zero": false}, "axis": {"title": "Value", "values": [3.5, 4.0, 4.5, 5.0], "format": ".1f"}}
      },
      "layer": [
        {"data": {"values": [{}]}, "mark": "rule", "encoding": {"x": {"datum": 23.5}, "y": {"datum": 3.11}, "y2": {"datum": 5.25}}},
        {"data": {"name": "ene_gt"}, "mark": {"type": "line", "strokeWidth": 1.6}, "encoding": {"color": {"datum": "History + GT"}}},
        {"data": {"name": "ene_mm"}, "mark": "line", "encoding": {"color": {"datum": "MMTSF"}}},
        {"data": {"name": "ene_ta"}, "mark": "line", "encoding": {"color": {"datum": "TaTS"}}},
        {"data": {"name": "ene_re"}, "mark": "line", "encoding": {"color": {"datum": "REST-TS"}}}
      ]
    },
    {
      "title": "Environment — prediction length of 192",
      "width": 212, "height": 102,
      "encoding": {
        "x": {"field": "t", "type": "quantitative", "scale": {"domain": [-10.75, 225.75], "nice": false, "zero": false}, "axis": {"title": "Time step", "values": [0, 50, 100, 150, 200]}},
        "y": {"field": "v", "type": "quantitative", "scale": {"domain": [26, 146], "nice": false, "zero": false}, "axis": {"title": "Value", "values": [50, 75, 100, 125], "format": "d"}}
      },
      "layer": [
        {"data": {"values": [{}]}, "mark": "rule", "encoding": {"x": {"datum": 23.5}, "y": {"datum": 26}, "y2": {"datum": 146}}},
        {"data": {"name": "env_gt"}, "mark": {"type": "line", "strokeWidth": 1.3}, "encoding": {"color": {"datum": "History + GT"}}},
        {"data": {"name": "env_mm"}, "mark": "line", "encoding": {"color": {"datum": "MMTSF"}}},
        {"data": {"name": "env_ta"}, "mark": "line", "encoding": {"color": {"datum": "TaTS"}}},
        {"data": {"name": "env_re"}, "mark": "line", "encoding": {"color": {"datum": "REST-TS"}}}
      ]
    },
    {
      "title": "Health — prediction length of 48",
      "width": 212, "height": 102,
      "encoding": {
        "x": {"field": "t", "type": "quantitative", "scale": {"domain": [-3.55, 74.55], "nice": false, "zero": false}, "axis": {"title": "Time step", "values": [0, 10, 20, 30, 40, 50, 60, 70]}},
        "y": {"field": "v", "type": "quantitative", "scale": {"domain": [0.49, 8.53], "nice": false, "zero": false}, "axis": {"title": "Value", "values": [2, 4, 6, 8], "format": "d"}}
      },
      "layer": [
        {"data": {"values": [{}]}, "mark": "rule", "encoding": {"x": {"datum": 23.5}, "y": {"datum": 0.49}, "y2": {"datum": 8.53}}},
        {"data": {"name": "hea_gt"}, "mark": {"type": "line", "strokeWidth": 1.6}, "encoding": {"color": {"datum": "History + GT"}}},
        {"data": {"name": "hea_mm"}, "mark": "line", "encoding": {"color": {"datum": "MMTSF"}}},
        {"data": {"name": "hea_ta"}, "mark": "line", "encoding": {"color": {"datum": "TaTS"}}},
        {"data": {"name": "hea_re"}, "mark": "line", "encoding": {"color": {"datum": "REST-TS"}}}
      ]
    },
    {
      "title": {"text": "Security — prediction length of 12", "offset": 0},
      "width": 212, "height": 102,
      "layer": [
        {
          "encoding": {
            "x": {"field": "t", "type": "quantitative", "scale": {"domain": [-1.75, 36.75], "nice": false, "zero": false}, "axis": {"title": "Time step", "values": [0, 5, 10, 15, 20, 25, 30, 35]}},
            "y": {"field": "v", "type": "quantitative", "scale": {"domain": [-7.3e8, 2.145e10], "nice": false, "zero": false}, "axis": {"title": "Value", "values": [0, 5e9, 1e10, 1.5e10, 2e10], "labelExpr": "format(datum.value / 1e10, '.1f')"}}
          },
          "layer": [
            {"data": {"values": [{}]}, "mark": "rule", "encoding": {"x": {"datum": 23.5}, "y": {"datum": -7.3e8}, "y2": {"datum": 2.145e10}}},
            {"data": {"name": "sec_gt"}, "mark": {"type": "line", "strokeWidth": 1.6}, "encoding": {"color": {"datum": "History + GT"}}},
            {"data": {"name": "sec_mm"}, "mark": "line", "encoding": {"color": {"datum": "MMTSF"}}},
            {"data": {"name": "sec_ta"}, "mark": "line", "encoding": {"color": {"datum": "TaTS"}}},
            {"data": {"name": "sec_re"}, "mark": "line", "encoding": {"color": {"datum": "REST-TS"}}}
          ]
        },
        {"data": {"name": "sec_scale"}, "mark": {"type": "text", "align": "left", "baseline": "bottom", "fontSize": 8.5, "dy": -1, "clip": false, "color": "#222222"},
         "encoding": {
           "x": {"datum": -1.75, "type": "quantitative", "scale": {"domain": [-1.75, 36.75], "nice": false, "zero": false}, "axis": {"title": "Time step", "values": [0, 5, 10, 15, 20, 25, 30, 35]}},
           "y": {"datum": 2.145e10, "type": "quantitative", "scale": {"domain": [-7.3e8, 2.145e10], "nice": false, "zero": false}, "axis": {"title": "Value", "values": [0, 5e9, 1e10, 1.5e10, 2e10], "labelExpr": "format(datum.value / 1e10, '.1f')"}},
           "text": {"field": "label", "type": "nominal"}}}
      ]
    },
    {
      "title": "SocialGood — prediction length of 12",
      "width": 212, "height": 102,
      "encoding": {
        "x": {"field": "t", "type": "quantitative", "scale": {"domain": [-1.75, 36.75], "nice": false, "zero": false}, "axis": {"title": "Time step", "values": [0, 5, 10, 15, 20, 25, 30, 35]}},
        "y": {"field": "v", "type": "quantitative", "scale": {"domain": [2.81, 15.05], "nice": false, "zero": false}, "axis": {"title": "Value", "values": [5, 7.5, 10, 12.5], "format": ".1f"}}
      },
      "layer": [
        {"data": {"values": [{}]}, "mark": "rule", "encoding": {"x": {"datum": 23.5}, "y": {"datum": 2.81}, "y2": {"datum": 15.05}}},
        {"data": {"name": "soc_gt"}, "mark": {"type": "line", "strokeWidth": 1.6}, "encoding": {"color": {"datum": "History + GT"}}},
        {"data": {"name": "soc_mm"}, "mark": "line", "encoding": {"color": {"datum": "MMTSF"}}},
        {"data": {"name": "soc_ta"}, "mark": "line", "encoding": {"color": {"datum": "TaTS"}}},
        {"data": {"name": "soc_re"}, "mark": "line", "encoding": {"color": {"datum": "REST-TS"}}}
      ]
    },
    {
      "title": "Traffic — prediction length of 12",
      "width": 212, "height": 102,
      "encoding": {
        "x": {"field": "t", "type": "quantitative", "scale": {"domain": [-1.75, 36.75], "nice": false, "zero": false}, "axis": {"title": "Time step", "values": [0, 5, 10, 15, 20, 25, 30, 35]}},
        "y": {"field": "v", "type": "quantitative", "scale": {"domain": [214100, 294700], "nice": false, "zero": false}, "axis": {"title": "Value", "values": [220000, 240000, 260000, 280000], "format": "d"}}
      },
      "layer": [
        {"data": {"values": [{}]}, "mark": "rule", "encoding": {"x": {"datum": 23.5}, "y": {"datum": 214100}, "y2": {"datum": 294700}}},
        {"data": {"name": "tra_gt"}, "mark": {"type": "line", "strokeWidth": 1.6}, "encoding": {"color": {"datum": "History + GT"}}},
        {"data": {"name": "tra_mm"}, "mark": "line", "encoding": {"color": {"datum": "MMTSF"}}},
        {"data": {"name": "tra_ta"}, "mark": "line", "encoding": {"color": {"datum": "TaTS"}}},
        {"data": {"name": "tra_re"}, "mark": "line", "encoding": {"color": {"datum": "REST-TS"}}}
      ]
    }
  ],
  "config": {
    "font": "DejaVu Sans",
    "view": {"stroke": "#7a7a7a", "strokeWidth": 0.9},
    "line": {"strokeWidth": 1.2, "strokeJoin": "round"},
    "rule": {"color": "#9a9a9a", "strokeWidth": 0.8, "strokeDash": [2, 2]},
    "axis": {"grid": true, "gridColor": "#e9e9e9", "gridWidth": 0.8, "domain": false, "ticks": true, "tickColor": "#333333", "tickSize": 3.5, "tickWidth": 0.8, "labelFontSize": 8.5, "labelColor": "#222222", "labelPadding": 2, "titleFontSize": 9.5, "titleFontWeight": "normal", "titleColor": "#222222", "labelFlush": false, "labelOverlap": false},
    "axisX": {"titlePadding": 1},
    "axisY": {"titlePadding": 2},
    "title": {"fontSize": 10.3, "fontWeight": "normal", "color": "#111111", "offset": 0, "anchor": "middle"}
  }
}
